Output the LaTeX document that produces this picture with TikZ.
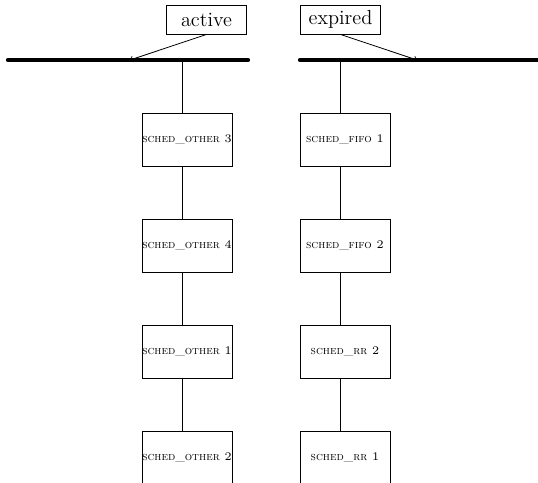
\documentclass[tikz,border=0pt]{standalone}
\begin{document}
\begin{tikzpicture}[x=0.55pt,y=-0.55pt,
  bar/.style={line width=2.3pt,line cap=round},
  link/.style={line width=0.45pt},
  tag/.style={draw,line width=0.45pt,minimum width=44pt,minimum height=16pt,inner sep=2pt,font=\fontsize{11.2}{13}\selectfont},
  proc/.style={draw,line width=0.45pt,minimum width=49.5pt,minimum height=29.2pt,inner sep=0pt,font=\fontsize{6.4}{8}\selectfont},
  pt/.style={->,line width=0.45pt}]
\useasboundingbox (0,0) rectangle (538,483);
\clip (0,0) rectangle (538,483);
% bars
\coordinate (la) at (8,60);
\coordinate (lb) at (248,60);
\coordinate (ra) at (300,60);
\coordinate (rb) at (560,60);
\coordinate (lj) at (182,60);
\coordinate (rj) at (340,60);
\coordinate (aa) at (130,60);
\coordinate (ea) at (417,60);
\draw[bar] (la) -- (lb);
\draw[bar] (ra) -- (rb);
% labels
\node[tag] (active) at (206.5,19.5) {active};
\node[tag] (expired) at (340.5,19.5) {expired};
\draw[pt] (active.south) -- (aa);
\draw[pt] (expired.south) -- (ea);
% left column
\node[proc] (l1) at (187,139.5) {\textsc{sched\_other} 3};
\node[proc] (l2) at (187,245.5) {\textsc{sched\_other} 4};
\node[proc] (l3) at (187,351.5) {\textsc{sched\_other} 1};
\node[proc] (l4) at (187,457.5) {\textsc{sched\_other} 2};
% right column
\node[proc] (r1) at (345,139.5) {\textsc{sched\_fifo} 1};
\node[proc] (r2) at (345,245.5) {\textsc{sched\_fifo} 2};
\node[proc] (r3) at (345,351.5) {\textsc{sched\_rr} 2};
\node[proc] (r4) at (345,457.5) {\textsc{sched\_rr} 1};
% links
\draw[link] (lj) -- (lj |- l1.north);
\draw[link] (lj |- l1.south) -- (lj |- l2.north);
\draw[link] (lj |- l2.south) -- (lj |- l3.north);
\draw[link] (lj |- l3.south) -- (lj |- l4.north);
\draw[link] (rj) -- (rj |- r1.north);
\draw[link] (rj |- r1.south) -- (rj |- r2.north);
\draw[link] (rj |- r2.south) -- (rj |- r3.north);
\draw[link] (rj |- r3.south) -- (rj |- r4.north);
\end{tikzpicture}
\end{document}
